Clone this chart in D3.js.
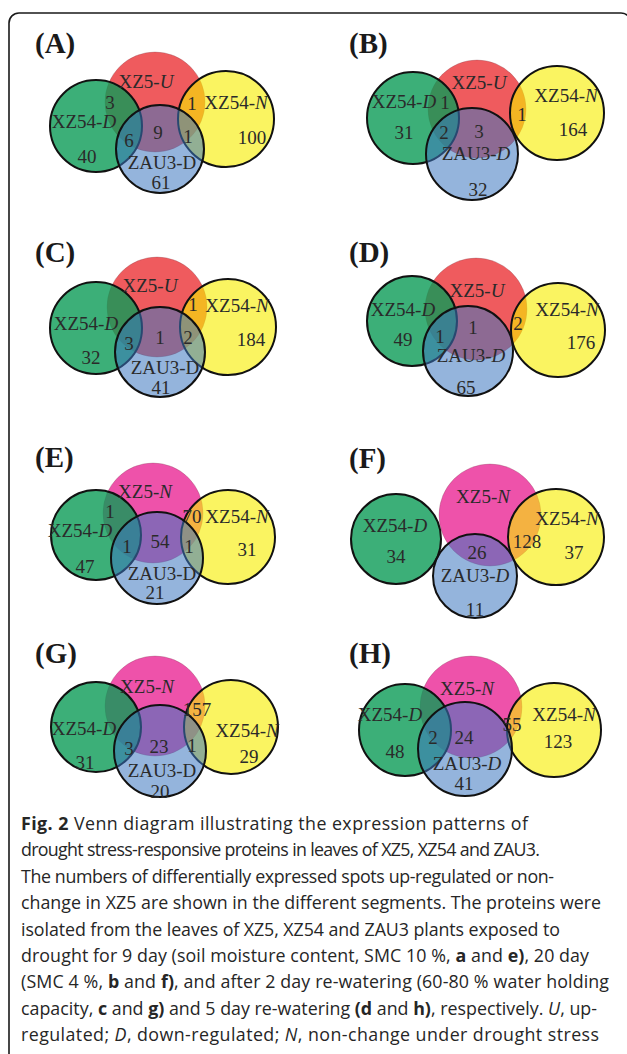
<!DOCTYPE html>
<html>
<head>
<meta charset="utf-8">
<script src="https://cdn.jsdelivr.net/npm/d3@7"></script>
<style>
  html, body { margin: 0; padding: 0; background: #fff; }
  svg { display: block; }
  .serif { font-family: "Liberation Serif", "Times New Roman", serif; }
  .cap { font-family: "Open Sans", "Noto Sans", sans-serif; fill: #262626; white-space: pre; }
</style>
</head>
<body>
<svg id="fig" width="627" height="1054"></svg>
<script>
// ---------------- data ----------------
const panelIds = ["A", "B", "C", "D", "E", "F", "G", "H"];
// XZ5 status in each comparison: U = up-regulated, N = non-change
const xz5Status = ["U", "U", "U", "U", "N", "N", "N", "N"];
// whether the "D" of the ZAU3-D set name is set in italic
const zau3DItalic = [false, true, false, true, false, true, false, true];
// set codes: X = XZ5, D = XZ54-D, N = XZ54-N, Z = ZAU3-D
const setCodes = ["X", "D", "N", "Z"];

// region keys list the sets that share the segment
const regionsA = ["XD", "XN", "XDZ", "XZ", "XNZ", "N", "D", "Z"];
const countsA  = [3, 1, 6, 9, 1, 100, 40, 61];
const regionsB = ["XD", "XN", "XDZ", "XZ", "N", "D", "Z"];
const countsB  = [1, 1, 2, 3, 164, 31, 32];
const regionsC = ["XN", "XDZ", "XZ", "XNZ", "N", "D", "Z"];
const countsC  = [1, 3, 1, 2, 184, 32, 41];
const regionsD = ["XDZ", "XZ", "XN", "D", "N", "Z"];
const countsD  = [1, 1, 2, 49, 176, 65];
const regionsE = ["XD", "XN", "XDZ", "XZ", "XNZ", "N", "D", "Z"];
const countsE  = [1, 70, 1, 54, 1, 31, 47, 21];
const regionsF = ["XN", "XZ", "D", "N", "Z"];
const countsF  = [128, 26, 34, 37, 11];
const regionsG = ["XN", "XDZ", "XZ", "XNZ", "N", "D", "Z"];
const countsG  = [157, 3, 23, 1, 29, 31, 20];
const regionsH = ["XN", "XDZ", "XZ", "D", "N", "Z"];
const countsH  = [55, 2, 24, 48, 123, 41];

const panelRegions = [regionsA, regionsB, regionsC, regionsD, regionsE, regionsF, regionsG, regionsH];
const panelCounts  = [countsA, countsB, countsC, countsD, countsE, countsF, countsG, countsH];

const captionLines = [
  [["Fig. 2", "b"], [" Venn diagram illustrating the expression patterns of", ""]],
  [["drought stress-responsive proteins in leaves of XZ5, XZ54 and ZAU3.", ""]],
  [["The numbers of differentially expressed spots up-regulated or non-", ""]],
  [["change in XZ5 are shown in the different segments. The proteins were", ""]],
  [["isolated from the leaves of XZ5, XZ54 and ZAU3 plants exposed to", ""]],
  [["drought for 9 day (soil moisture content, SMC 10 %, ", ""], ["a", "b"], [" and ", ""], ["e)", "b"], [", 20 day", ""]],
  [["(SMC 4 %, ", ""], ["b", "b"], [" and ", ""], ["f)", "b"], [", and after 2 day re-watering (60-80 % water holding", ""]],
  [["capacity, ", ""], ["c", "b"], [" and ", ""], ["g)", "b"], [" and 5 day re-watering ", ""], ["(d", "b"], [" and ", ""], ["h)", "b"], [", respectively. ", ""], ["U", "i"], [", up-", ""]],
  [["regulated; ", ""], ["D", "i"], [", down-regulated; ", ""], ["N", "i"], [", non-change under drought stress", ""]]
];

// ---------------- layout (panel-local units) ----------------
// origin = left edge / baseline of the panel letter
const panelOrigins = [[35, 53], [349, 53], [35, 262], [349, 262], [35, 467], [349, 468], [35, 663], [349, 663]];
// circle geometry per set: [cx, cy, r]
const panelCircles = [
  { X: [120, 49, 50], D: [61, 73, 46], N: [191, 66, 48], Z: [125, 96, 44] },
  { X: [128, 56, 49], D: [64, 65, 46], N: [208, 60, 47], Z: [123, 101, 46] },
  { X: [122, 45, 50], D: [61, 66, 46], N: [193, 65, 48], Z: [125, 90, 45] },
  { X: [127, 47, 51], D: [63, 59, 45], N: [209, 68, 47], Z: [119, 89, 45] },
  { X: [118, 46, 50], D: [61, 68, 45], N: [193, 70, 47], Z: [122, 91, 46] },
  { X: [141, 47, 51], D: [47, 71, 45], N: [207, 69, 48], Z: [126, 108, 42] },
  { X: [120, 43, 50], D: [61, 64, 45], N: [196, 64, 47], Z: [125, 88, 46] },
  { X: [122, 44, 51], D: [56, 67, 46], N: [205, 67, 47], Z: [116, 86, 47] }
];
// set-name anchors (text centre)
const panelSetLabels = [
  { X: [111, 29], D: [49, 69], N: [201, 50], Z: [127, 110] },
  { X: [130, 30], D: [55, 49], N: [217, 43], Z: [127, 101] },
  { X: [115, 24], D: [51, 62], N: [202, 44], Z: [130, 106] },
  { X: [128, 29], D: [54, 48], N: [218, 48], Z: [122, 94] },
  { X: [110, 25], D: [45, 64], N: [202, 50], Z: [127, 107] },
  { X: [134, 29], D: [46, 58], N: [218, 51], Z: [126, 108] },
  { X: [112, 24], D: [49, 66], N: [212, 68], Z: [127, 108] },
  { X: [118, 26], D: [41, 52], N: [215, 52], Z: [118, 101] }
];
// count anchors, same order as the region lists
const panelCountPos = [
  [[75, 50], [157, 51], [94, 88], [123, 80], [153, 84], [217, 85], [52, 104], [126, 130]],
  [[96, 50], [173, 62], [95, 80], [130, 79], [224, 77], [55, 80], [129, 137]],
  [[158, 43], [94, 82], [125, 76], [153, 76], [216, 78], [56, 96], [126, 126]],
  [[91, 75], [124, 66], [169, 62], [54, 78], [232, 81], [117, 126]],
  [[75, 45], [157, 50], [92, 80], [125, 75], [154, 80], [212, 83], [50, 100], [120, 126]],
  [[178, 74], [128, 85], [47, 89], [225, 85], [126, 142]],
  [[162, 47], [94, 86], [124, 84], [157, 83], [214, 94], [50, 100], [125, 129]],
  [[163, 62], [84, 75], [115, 75], [46, 89], [209, 79], [115, 121]]
];
// caption: first baseline, line step and the width each line runs to
const capX = 21, capY0 = 830, capStep = 26.4;
const capWidths = [507, 519, 533, 580, 539, 568, 588, 576, 578];

// ---------------- styles ----------------
const xz5Fill = { U: "#ef5b5e", N: "#ee52aa" };
const setFill = { D: "rgba(11,155,86,0.8)", N: "rgba(247,238,0,0.62)", Z: "rgba(60,118,192,0.55)" };
const labelSize = 19;

const svg = d3.select("#fig");

// frame around the figure and its caption
svg.append("rect")
  .attr("x", 9).attr("y", 13)
  .attr("width", 622).attr("height", 1060)
  .attr("rx", 10).attr("ry", 10)
  .attr("fill", "none").attr("stroke", "#1a1a1a").attr("stroke-width", 1.6);

function setName(code, i) {
  if (code === "X") return [["XZ5-", false], [xz5Status[i], true]];
  if (code === "D") return [["XZ54-", false], ["D", true]];
  if (code === "N") return [["XZ54-", false], ["N", true]];
  return [["ZAU3-", false], ["D", zau3DItalic[i]]];
}

panelIds.forEach((id, i) => {
  const [ox, oy] = panelOrigins[i];
  const sx = d3.scaleLinear().domain([0, 300]).range([ox, ox + 300]);
  const sy = d3.scaleLinear().domain([0, 200]).range([oy, oy + 200]);
  const g = svg.append("g").attr("class", "serif");

  // panel letter
  g.append("text")
    .attr("x", sx(0)).attr("y", sy(0))
    .attr("font-size", 29).attr("font-weight", "bold").attr("fill", "#1a1a1a")
    .text("(" + id + ")");

  // circles: XZ5 at the bottom, then XZ54-D, XZ54-N and ZAU3-D
  const circ = setCodes.map(code => ({ code, c: panelCircles[i][code] }));
  g.selectAll("circle.set").data(circ).join("circle")
    .attr("class", "set")
    .attr("cx", d => sx(d.c[0]))
    .attr("cy", d => sy(d.c[1]))
    .attr("r", d => sx(d.c[2]) - sx(0))
    .attr("fill", d => d.code === "X" ? xz5Fill[xz5Status[i]] : setFill[d.code])
    .attr("stroke", d => d.code === "X" ? "rgba(120,70,80,0.35)" : "#111")
    .attr("stroke-width", d => d.code === "X" ? 0.8 : 2);

  // set names
  const names = setCodes.map(code => ({ code, p: panelSetLabels[i][code], parts: setName(code, i) }));
  const nt = g.selectAll("text.setname").data(names).join("text")
    .attr("class", "setname")
    .attr("x", d => sx(d.p[0])).attr("y", d => sy(d.p[1]))
    .attr("dy", "0.34em")
    .attr("text-anchor", "middle")
    .attr("font-size", labelSize)
    .attr("fill", "#2a2a2a");
  nt.selectAll("tspan").data(d => d.parts).join("tspan")
    .attr("font-style", d => d[1] ? "italic" : "normal")
    .text(d => d[0]);

  // segment counts
  const cnt = panelCounts[i].map((v, k) => ({ v, region: panelRegions[i][k], p: panelCountPos[i][k] }));
  g.selectAll("text.count").data(cnt).join("text")
    .attr("class", "count")
    .attr("x", d => sx(d.p[0])).attr("y", d => sy(d.p[1]))
    .attr("dy", "0.34em")
    .attr("text-anchor", "middle")
    .attr("font-size", labelSize)
    .attr("fill", "#2a2a2a")
    .text(d => d.v);
});

// ---------------- caption ----------------
const cap = svg.append("g").attr("class", "cap").attr("font-size", 16);
const lines = cap.selectAll("text").data(captionLines).join("text")
  .attr("x", capX)
  .attr("y", (d, k) => capY0 + k * capStep);
lines.selectAll("tspan").data(d => d).join("tspan")
  .attr("font-weight", d => d[1] === "b" ? "bold" : "normal")
  .attr("font-style", d => d[1] === "i" ? "italic" : "normal")
  .text(d => d[0]);
// size the caption from its longest line, then let each line run to its width
const ref = lines.nodes()[3].getComputedTextLength();
cap.attr("font-size", 16 * capWidths[3] / ref);
lines.attr("textLength", (d, k) => capWidths[k]).attr("lengthAdjust", "spacing");
</script>
</body>
</html>
